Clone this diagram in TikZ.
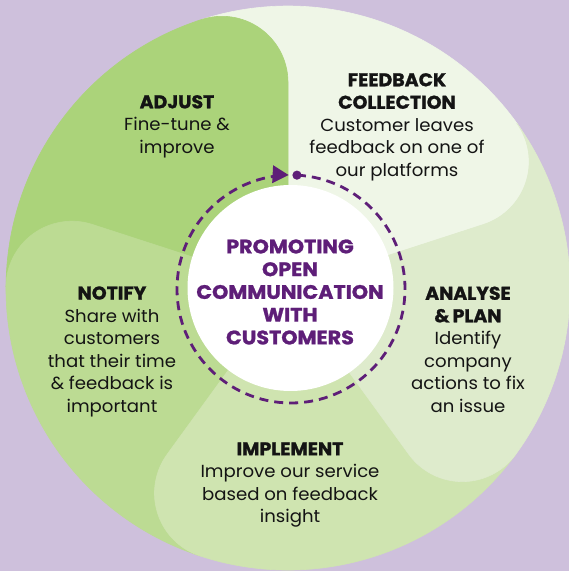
\documentclass[tikz,border=0pt]{standalone}
\usepackage{fontspec}
\setmainfont[FakeStretch=1.035]{Poppins}
\newfontfamily\headfont[FakeStretch=1.02,FakeBold=1.2]{Poppins}
\newfontfamily\centrefont[FakeStretch=1.06,FakeBold=1.2]{Poppins}
\usetikzlibrary{arrows.meta,calc}
\definecolor{bgpurple}{HTML}{CEC0DC}
\definecolor{cfeed}{HTML}{EFF6E7}
\definecolor{canal}{HTML}{DEEBCC}
\definecolor{cimpl}{HTML}{CFE4B0}
\definecolor{cnoti}{HTML}{BCDB93}
\definecolor{cadju}{HTML}{ABD37A}
\definecolor{purp}{HTML}{5E1E78}
\definecolor{ink}{HTML}{141414}
\newcommand{\segshape}{(0,0) -- (205.7pt,0pt) arc[start angle=-90,end angle=17.8,radius=66pt] arc[start angle=17.8,end angle=89.8,radius=282pt] arc[start angle=89.8,end angle=-18,radius=66pt] -- cycle}
\newcommand{\hd}{\headfont\fontsize{18.5pt}{22.5pt}\selectfont\bfseries}
\tikzset{
  segfill/.style={fill=#1, draw=#1, line width=0.6pt},
  txt/.style={align=center, text=ink, inner sep=0pt, font=\fontsize{17.5pt}{22.5pt}\selectfont},
  ctxt/.style={align=center, text=purp, inner sep=0pt, font=\centrefont\fontsize{19.5pt}{22.75pt}\selectfont\bfseries},
  dashring/.style={purp, line width=2.8pt, dash pattern=on 9pt off 6pt},
}
\begin{document}
\begin{tikzpicture}[x=1pt,y=1pt]
\fill[bgpurple] (0,0) rectangle (569,571);
\useasboundingbox (0,0) rectangle (569,571);
% five overlapping petals
\begin{scope}[shift={(288,283)}]
  \begin{scope}[rotate=18]\path[segfill=cfeed] \segshape;\end{scope}
  \begin{scope}[rotate=90]\path[segfill=cadju] \segshape;\end{scope}
  \begin{scope}[rotate=162]\path[segfill=cnoti] \segshape;\end{scope}
  \begin{scope}[rotate=234]\path[segfill=cimpl] \segshape;\end{scope}
  \begin{scope}[rotate=306]\path[segfill=canal] \segshape;\end{scope}
\end{scope}
% centre
\fill[white] (290.5,283) circle[radius=103pt];
\coordinate (dc) at (291,282);
\coordinate (dot) at ($(dc)+(87:114)$);
\coordinate (tip) at ($(dc)+(91.2:114)$);
\draw[dashring] (dot) arc[start angle=87, end angle=-261, radius=114pt];
\begin{scope}[shift={(tip)}, rotate=-3]
  \fill[purp] (0,0) -- (-16,9) -- (-16,-9) -- cycle;
\end{scope}
\fill[purp] (dot) circle[radius=4.6pt];
\node[ctxt] (centre) at (290,279) {PROMOTING\\OPEN\\COMMUNICATION\\WITH\\CUSTOMERS};
% labels
\node[txt] (adjust) at (177,444.5) {{\hd ADJUST}\\Fine-tune \&\\improve};
\node[txt] (feedback) at (397,444) {{\hd FEEDBACK}\\{\hd COLLECTION}\\Customer leaves\\feedback on one of\\our platforms};
\node[txt] (analyse) at (468,221.5) {{\hd ANALYSE}\\{\hd \&\,PLAN}\\Identify\\company\\actions to fix\\an issue};
\node[txt] (implement) at (290,86) {{\hd IMPLEMENT}\\Improve our service\\based on feedback\\insight};
\node[txt] (notify) at (112,219.5) {{\hd NOTIFY}\\Share with\\customers\\that their time\\\& feedback is\\important};
\end{tikzpicture}
\end{document}
